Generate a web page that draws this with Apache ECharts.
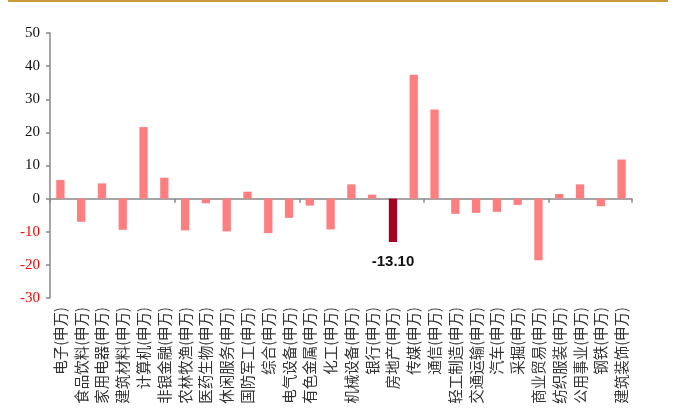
<!DOCTYPE html>
<html>
<head>
<meta charset="utf-8">
<script src="https://cdn.jsdelivr.net/npm/echarts@6/dist/echarts.min.js"></script>
<style>
  html, body { margin: 0; padding: 0; background: #fff; }
  #chart { width: 675px; height: 414px; }
</style>
</head>
<body>
<div id="chart"></div>
<script>
// Industry names (SW classification)
const categories = [
  '电子(申万)', '食品饮料(申万)', '家用电器(申万)', '建筑材料(申万)', '计算机(申万)',
  '非银金融(申万)', '农林牧渔(申万)', '医药生物(申万)', '休闲服务(申万)', '国防军工(申万)',
  '综合(申万)', '电气设备(申万)', '有色金属(申万)', '化工(申万)', '机械设备(申万)',
  '银行(申万)', '房地产(申万)', '传媒(申万)', '通信(申万)', '轻工制造(申万)',
  '交通运输(申万)', '汽车(申万)', '采掘(申万)', '商业贸易(申万)', '纺织服装(申万)',
  '公用事业(申万)', '钢铁(申万)', '建筑装饰(申万)'
];

// Change values (%)
const values = [
  5.6, -7.0, 4.6, -9.4, 21.6,
  6.3, -9.6, -1.4, -9.9, 2.1,
  -10.4, -5.8, -2.1, -9.3, 4.3,
  1.2, -13.10, 37.4, 26.9, -4.6,
  -4.3, -4.0, -1.9, -18.6, 1.4,
  4.3, -2.3, 11.8
];

// Highlighted industry with its value label
const highlight = '房地产(申万)';

// Y axis range
const yMin = -30, yMax = 50, yStep = 10;

const chart = echarts.init(document.getElementById('chart'));

const barData = values.map((v, i) => {
  if (categories[i] === highlight) {
    return {
      value: v,
      itemStyle: { color: '#A50021' },
      label: {
        show: true,
        position: 'bottom',
        distance: 12,
        formatter: p => p.value.toFixed(2),
        fontFamily: 'Liberation Sans, Arial, sans-serif',
        fontWeight: 'bold',
        fontSize: 15,
        color: '#111'
      }
    };
  }
  return v;
});

chart.setOption({
  animation: false,
  backgroundColor: '#fff',
  graphic: [{
    type: 'line',
    shape: { x1: 8, y1: 1, x2: 668, y2: 1 },
    style: { stroke: '#CC9A3C', lineWidth: 2 }
  }],
  grid: { left: 50, right: 43, top: 33, bottom: 116, containLabel: false },
  xAxis: [{
    type: 'category',
    data: categories,
    axisLine: { onZero: true, lineStyle: { color: '#888', width: 1.5 } },
    axisTick: { show: true, inside: false, length: 4, lineStyle: { color: '#888', width: 1.5 } },
    axisLabel: { show: false }
  }, {
    type: 'category',
    data: categories,
    position: 'bottom',
    axisLine: { show: false, onZero: false },
    axisTick: { show: false },
    axisLabel: {
      show: true,
      interval: 0,
      rotate: 90,
      margin: 9,
      fontFamily: 'Noto Sans CJK SC, sans-serif',
      fontSize: 14.5,
      color: '#333'
    }
  }],
  yAxis: {
    type: 'value',
    min: yMin,
    max: yMax,
    interval: yStep,
    splitLine: { show: false },
    axisLine: { show: true, lineStyle: { color: '#888', width: 1.5 } },
    axisTick: { show: true, length: 4, lineStyle: { color: '#888', width: 1.5 } },
    axisLabel: {
      margin: 10,
      fontFamily: 'Liberation Serif, Times New Roman, serif',
      fontSize: 15,
      color: v => (Number(v) < 0 ? '#FF0000' : '#111')
    }
  },
  series: [{
    type: 'bar',
    xAxisIndex: 0,
    data: barData,
    barWidth: '40%',
    itemStyle: { color: '#FF7F80' }
  }]
});
</script>
</body>
</html>
